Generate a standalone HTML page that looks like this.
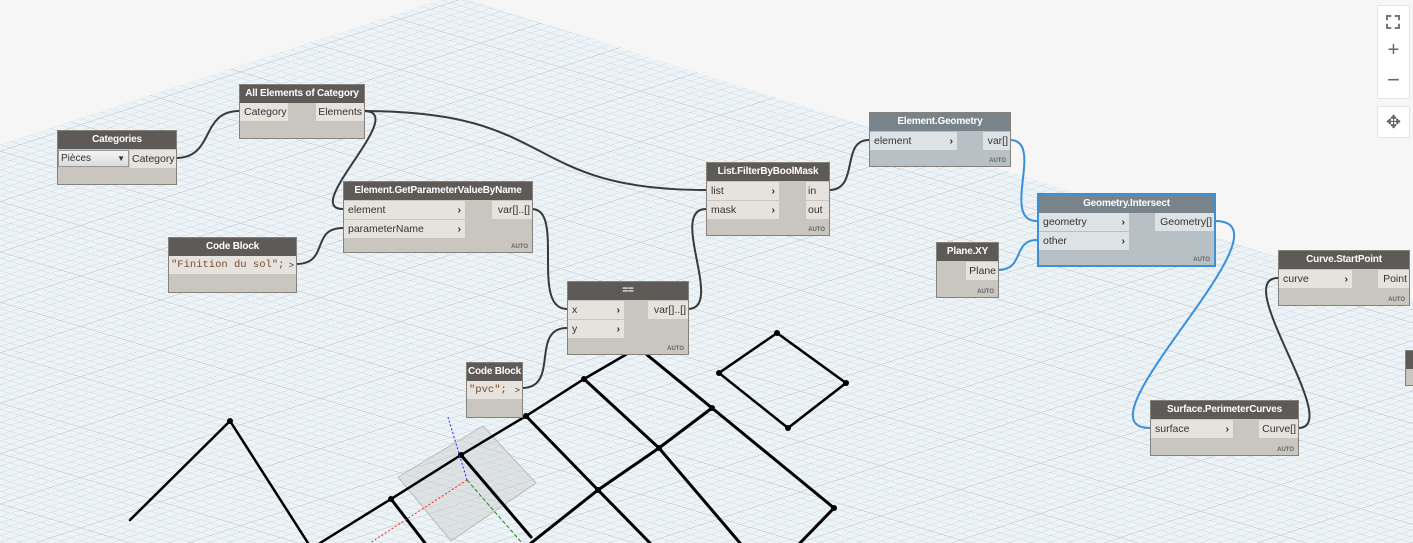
<!DOCTYPE html>
<html><head><meta charset="utf-8"><style>
body{margin:0;width:1413px;height:543px;overflow:hidden;background:#f6f6f6;font-family:"Liberation Sans",sans-serif;position:relative}
svg{position:absolute;left:0;top:0}
.n{position:absolute;background:#c9c5bf;border:1px solid #85827e;box-sizing:border-box;font-size:10.5px;color:#333}
.h{height:18px;background:#5d5a57;color:#fff;font-weight:bold;text-align:center;line-height:18px;font-size:10px;letter-spacing:-0.2px;white-space:nowrap;overflow:hidden}
.p{position:absolute;height:18px;line-height:18px;background:#e6e3de;padding-left:4px;box-sizing:border-box;white-space:nowrap}
.p b{position:absolute;right:4px;top:0;font-weight:bold;color:#333}
.o{position:absolute;height:18px;line-height:18px;background:#e6e3de;padding:0 2px;box-sizing:border-box;text-align:right;white-space:nowrap;overflow:hidden}
.a{position:absolute;right:4px;bottom:2px;font-size:6px;font-weight:bold;color:#666}
.g{background:#b7c0c4}.g .h{background:#78838a}.g .p,.g .o{background:#dde2e4}
.cb{font-family:"Liberation Mono",monospace;color:#7a4a2a;font-size:10.5px}
.btn{position:absolute;background:#fff;border:1px solid #e4e4e4;border-radius:2px;color:#666;text-align:center}
</style></head><body>
<svg width="1413" height="543">
<defs>
<pattern id="mi" width="10" height="10" patternUnits="userSpaceOnUse" patternTransform="matrix(1 0.3 1 -0.33 0 0)">
<path d="M0 0H10M0 0V10" stroke="#b3cde0" stroke-width="1" fill="none"/>
</pattern>
<pattern id="ma" width="80" height="80" patternUnits="userSpaceOnUse" patternTransform="matrix(1 0.3 1 -0.33 0 0)">
<path d="M0 0H80M0 0V80" stroke="#a4acb3" stroke-width="0.9" fill="none"/>
</pattern>
<clipPath id="cp"><polygon points="0,145 440,0 470,0 1413,300 1413,543 0,543"/></clipPath>
</defs>
<g clip-path="url(#cp)"><rect width="1413" height="543" fill="#eef3f6"/><rect width="1413" height="543" fill="url(#mi)"/><rect width="1413" height="543" fill="url(#ma)"/></g>
<polygon points="398,477 483,426 536,483 451,541" fill="rgba(200,200,200,0.4)" stroke="#bbb"/>
<g stroke="#000" stroke-width="3" fill="none" stroke-linecap="round">
<polyline points="130,520 230,421 308,543" stroke-width="2.5"/>
<polyline points="320,543 391,499 461,455 526,416 584,379 627,354" stroke-width="2.5"/>
<polyline points="531,543 598,490 659,448 712,408"/>
<polyline points="646,354 712,408 834,508 800,543"/>
<polyline points="391,499 425,543"/>
<polyline points="461,455 531,537"/>
<polyline points="526,416 598,490 650,543"/>
<polyline points="584,379 659,448 740,543"/>
<polygon points="777,333 846,383 788,428 719,373" stroke-width="2.5"/>
</g>
<g fill="#000"><circle cx="230" cy="421" r="3"/><circle cx="391" cy="499" r="3"/><circle cx="461" cy="455" r="3"/><circle cx="526" cy="416" r="3"/><circle cx="584" cy="379" r="3"/><circle cx="712" cy="408" r="3"/><circle cx="659" cy="448" r="3"/><circle cx="598" cy="490" r="3"/><circle cx="834" cy="508" r="3"/><circle cx="777" cy="333" r="3"/><circle cx="846" cy="383" r="3"/><circle cx="788" cy="428" r="3"/><circle cx="719" cy="373" r="3"/></g>
<line x1="467" y1="480" x2="448" y2="417" stroke="#22f" stroke-dasharray="2,2"/>
<line x1="467" y1="480" x2="370" y2="543" stroke="#f22" stroke-dasharray="2,2"/>
<line x1="467" y1="480" x2="522" y2="543" stroke="#282" stroke-dasharray="4,2"/>
<g fill="none" stroke="#3a3a3a" stroke-width="2">
<path d="M176 158C215 158 200 111 239 111"/>
<path d="M364 111C410 111 300 209 343 209"/>
<path d="M364 111C560 111 520 190 706 190"/>
<path d="M296 264C330 264 310 228 343 228"/>
<path d="M532 209C565 209 530 309 567 309"/>
<path d="M522 388C560 388 530 328 567 328"/>
<path d="M688 309C725 309 668 209 706 209"/>
<path d="M829 190C860 190 840 140 869 140"/>
<path d="M1298 428C1345 428 1230 278 1278 278"/>
</g>
<g fill="none" stroke="#3a8fdc" stroke-width="2">
<path d="M1010 140C1045 140 1000 221 1037 221"/>
<path d="M998 270C1025 270 1012 240 1037 240"/>
<path d="M1215 221C1300 221 1070 428 1150 428"/>
</g>
</svg>

<div class="n" style="left:57px;top:130px;width:120px;height:55px"><div class="h">Categories</div>
<div style="position:absolute;left:0;top:19px;width:71px;height:17px;background:linear-gradient(#f4f4f4,#dcdcdc);border:1px solid #999;box-sizing:border-box;line-height:15px;padding-left:2px;font-size:10px">Pièces<span style="position:absolute;right:3px;font-size:8px">▼</span></div>
<div class="o" style="right:0;top:19px;width:46px">Category</div></div>

<div class="n" style="left:239px;top:84px;width:126px;height:55px"><div class="h">All Elements of Category</div>
<div class="p" style="left:0;top:18px;width:48px">Category</div>
<div class="o" style="right:0;top:18px;width:48px">Elements</div></div>

<div class="n" style="left:343px;top:181px;width:190px;height:72px"><div class="h">Element.GetParameterValueByName</div>
<div class="p" style="left:0;top:19px;width:121px">element<b>›</b></div>
<div class="p" style="left:0;top:38px;width:121px">parameterName<b>›</b></div>
<div class="o" style="right:0;top:19px;width:40px">var[]..[]</div><div class="a">AUTO</div></div>

<div class="n" style="left:168px;top:237px;width:129px;height:56px"><div class="h">Code Block</div>
<div class="p cb" style="left:0;top:18px;width:113px;padding-left:2px">"Finition du sol";</div>
<div class="o" style="right:0;top:18px;width:14px;font-size:9px">&gt;</div></div>

<div class="n" style="left:706px;top:162px;width:124px;height:74px"><div class="h">List.FilterByBoolMask</div>
<div class="p" style="left:0;top:19px;width:72px">list<b>›</b></div>
<div class="p" style="left:0;top:38px;width:72px">mask<b>›</b></div>
<div class="o" style="right:0;top:19px;width:23px;text-align:left">in</div>
<div class="o" style="right:0;top:38px;width:23px;text-align:left">out</div><div class="a">AUTO</div></div>

<div class="n" style="left:567px;top:281px;width:122px;height:74px"><div class="h">==</div>
<div class="p" style="left:0;top:19px;width:56px">x<b>›</b></div>
<div class="p" style="left:0;top:38px;width:56px">y<b>›</b></div>
<div class="o" style="right:0;top:19px;width:40px">var[]..[]</div><div class="a">AUTO</div></div>

<div class="n" style="left:466px;top:362px;width:57px;height:56px"><div class="h">Code Block</div>
<div class="p cb" style="left:0;top:18px;width:41px;padding-left:2px">"pvc";</div>
<div class="o" style="right:0;top:18px;width:14px;font-size:9px">&gt;</div></div>

<div class="n g" style="left:869px;top:112px;width:142px;height:55px"><div class="h">Element.Geometry</div>
<div class="p" style="left:0;top:19px;width:87px">element<b>›</b></div>
<div class="o" style="right:0;top:19px;width:27px">var[]</div><div class="a">AUTO</div></div>

<div class="n g" style="left:1037px;top:193px;width:179px;height:74px;border:2px solid #3f8fd6"><div class="h">Geometry.Intersect</div>
<div class="p" style="left:0;top:18px;width:90px">geometry<b>›</b></div>
<div class="p" style="left:0;top:37px;width:90px">other<b>›</b></div>
<div class="o" style="right:0;top:18px;width:59px">Geometry[]</div><div class="a">AUTO</div></div>

<div class="n" style="left:936px;top:242px;width:63px;height:56px"><div class="h">Plane.XY</div>
<div class="o" style="right:0;top:19px;width:32px">Plane</div><div class="a">AUTO</div></div>

<div class="n" style="left:1278px;top:250px;width:132px;height:56px"><div class="h">Curve.StartPoint</div>
<div class="p" style="left:0;top:19px;width:73px">curve<b>›</b></div>
<div class="o" style="right:0;top:19px;width:31px">Point</div><div class="a">AUTO</div></div>

<div class="n" style="left:1150px;top:400px;width:149px;height:56px"><div class="h">Surface.PerimeterCurves</div>
<div class="p" style="left:0;top:19px;width:82px">surface<b>›</b></div>
<div class="o" style="right:0;top:19px;width:39px">Curve[]</div><div class="a">AUTO</div></div>

<div class="n" style="left:1405px;top:350px;width:20px;height:36px"><div class="h"></div></div>

<div class="btn" style="left:1377px;top:5px;width:31px;height:92px">
<div style="position:absolute;left:8px;top:9px;width:14px;height:14px;border:2px dashed #777;box-sizing:border-box"></div>
<div style="position:absolute;left:0;width:31px;top:34px;font-size:20px;line-height:20px">+</div>
<div style="position:absolute;left:0;width:31px;top:64px;font-size:22px;line-height:20px">−</div></div>
<div class="btn" style="left:1377px;top:106px;width:31px;height:30px;font-size:18px;line-height:30px">✥</div>
</body></html>
